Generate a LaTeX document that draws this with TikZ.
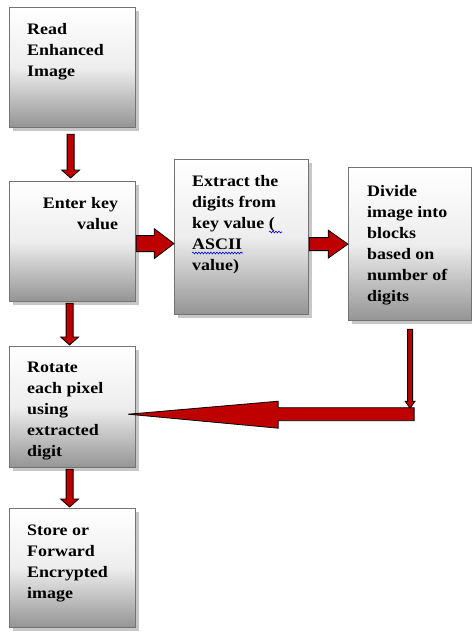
\documentclass[tikz,border=0pt]{standalone}
\usepackage{fontspec}
\setmainfont{Liberation Serif}[FakeStretch=1.12]
\usetikzlibrary{calc,shadows,decorations.pathmorphing}
\begin{document}
\begin{tikzpicture}[x=1pt,y=-1pt,
  box/.style={draw=black!55, line width=1.2pt, top color=white, bottom color=black!42,
    middle color=black!7, anchor=north west, inner sep=0pt,
    drop shadow={shadow xshift=3pt, shadow yshift=-3pt, fill=black!22, opacity=1}},
  txt/.style={anchor=north west, inner sep=0pt, align=left,
    font=\fontsize{16}{21}\selectfont\bfseries},
  wave/.style={draw=blue, line width=0.6pt, decorate,
    decoration={snake, amplitude=0.9pt, segment length=3pt}},
  blockarrow/.style={fill=red!75!black, draw=black, line width=0.8pt, line join=miter}]
\useasboundingbox (0,0) rectangle (472,633);

% boxes
\node[box, minimum width=126pt, minimum height=120pt] (b1) at (9,7) {};
\node[box, minimum width=126pt, minimum height=120pt] (b2) at (9,181) {};
\node[box, minimum width=134pt, minimum height=155pt] (b3) at (174,159) {};
\node[box, minimum width=123pt, minimum height=153pt] (b4) at (348,167) {};
\node[box, minimum width=126pt, minimum height=121pt] (b5) at (9,346) {};
\node[box, minimum width=126pt, minimum height=119pt] (b6) at (9,508) {};

% texts
\node[txt] (t1) at ($(b1.north west)+(18,16)$) {Read\\Enhanced\\Image};
\node[txt, anchor=north east, align=right] (t2) at ($(b2.north east)+(-18,16)$) {Enter key\\value};
\node[txt] (t3) at ($(b3.north west)+(18,16)$) {Extract the\\digits from\\key value (\\ASCII\\value)};
\node[txt] (t4) at ($(b4.north west)+(19,18)$) {Divide\\image into\\blocks\\based on\\number of\\digits};
\node[txt] (t5) at ($(b5.north west)+(18,16)$) {Rotate\\each pixel\\using\\extracted\\digit};
\node[txt] (t6) at ($(b6.north west)+(18,17)$) {Store or\\Forward\\Encrypted\\image};

% spell-check wavy underlines
\draw[wave] ($(t3.north west)+(77,57)$) -- ($(t3.north west)+(90,57)$);
\draw[wave] ($(t3.north west)+(0,78)$) -- ($(t3.north west)+(51,78)$);

% vertical arrows
\coordinate (v1s) at ($(b1.south)+(-2,6)$);
\coordinate (v1t) at ($(b2.north)+(-2,-3)$);
\filldraw[blockarrow] ($(v1s)+(-3.5,0)$) -- ($(v1t)+(-3.5,-8)$) -- ($(v1t)+(-9,-8)$) -- (v1t)
  -- ($(v1t)+(9,-8)$) -- ($(v1t)+(3.5,-8)$) -- ($(v1s)+(3.5,0)$) -- cycle;

\coordinate (v2s) at ($(b2.south)+(-3,1)$);
\coordinate (v2t) at ($(b5.north)+(-3,-1)$);
\filldraw[blockarrow] ($(v2s)+(-3.5,0)$) -- ($(v2t)+(-3.5,-8)$) -- ($(v2t)+(-9,-8)$) -- (v2t)
  -- ($(v2t)+(9,-8)$) -- ($(v2t)+(3.5,-8)$) -- ($(v2s)+(3.5,0)$) -- cycle;

\coordinate (v3s) at ($(b5.south)+(-3,1)$);
\coordinate (v3t) at ($(b6.north)+(-3,-1)$);
\filldraw[blockarrow] ($(v3s)+(-3.5,0)$) -- ($(v3t)+(-3.5,-8)$) -- ($(v3t)+(-9,-8)$) -- (v3t)
  -- ($(v3t)+(9,-8)$) -- ($(v3t)+(3.5,-8)$) -- ($(v3s)+(3.5,0)$) -- cycle;

% horizontal block arrows
\coordinate (a2s) at ($(b2.east)+(0,2)$);
\coordinate (a2t) at (b3.west |- a2s);
\filldraw[blockarrow] ($(a2s)+(0,-8)$) -- ($(a2s)+(18,-8)$) -- ($(a2s)+(18,-15)$) -- (a2t)
  -- ($(a2s)+(18,15)$) -- ($(a2s)+(18,8)$) -- ($(a2s)+(0,8)$) -- cycle;

\coordinate (a3t) at (b4.west);
\coordinate (a3s) at (b3.east |- a3t);
\filldraw[blockarrow] ($(a3s)+(0,-6.5)$) -- ($(a3s)+(19,-6.5)$) -- ($(a3s)+(19,-14)$) -- (a3t)
  -- ($(a3s)+(19,14)$) -- ($(a3s)+(19,6.5)$) -- ($(a3s)+(0,6.5)$) -- cycle;

% elbow connector from b4 to b5
\coordinate (elbow) at ($(b4.south)+(0,93)$);
\coordinate (tipL) at ($(b5.east |- elbow)+(-8,0)$);
\filldraw[blockarrow] ($(elbow)+(4,-6.5)$) -- ($(tipL)+(150,-6.5)$) -- ($(tipL)+(150,-13)$) -- (tipL)
  -- ($(tipL)+(150,14)$) -- ($(tipL)+(150,6.5)$) -- ($(elbow)+(4,6.5)$) -- cycle;
\coordinate (v4s) at ($(b4.south)+(0,8)$);
\coordinate (v4t) at ($(elbow)+(0,-6)$);
\filldraw[blockarrow] ($(v4s)+(-2.5,0)$) -- ($(v4t)+(-2.5,-7)$) -- ($(v4t)+(-5,-7)$) -- (v4t)
  -- ($(v4t)+(5,-7)$) -- ($(v4t)+(2.5,-7)$) -- ($(v4s)+(2.5,0)$) -- cycle;
\end{tikzpicture}
\end{document}
